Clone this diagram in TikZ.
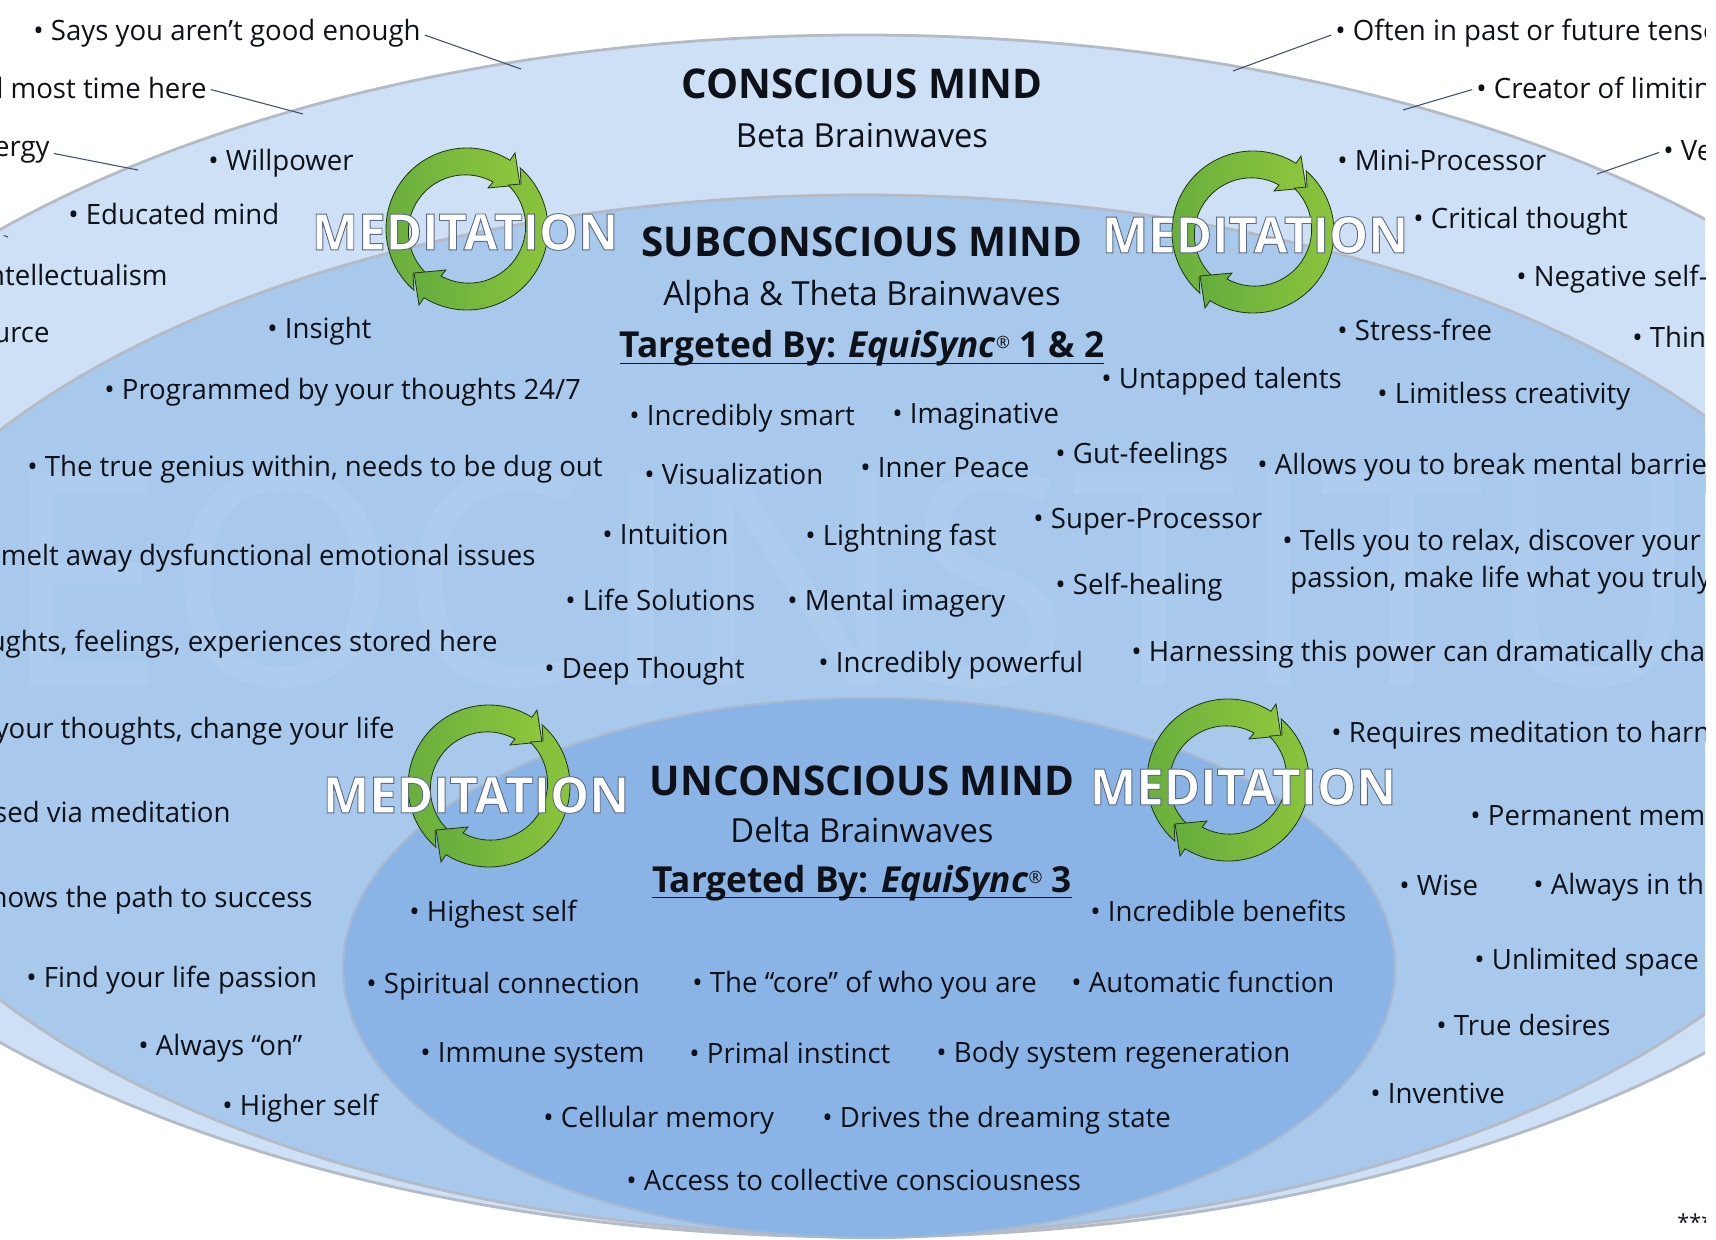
\documentclass[tikz,border=0pt]{standalone}
\usepackage{fontspec}
\setmainfont[FakeStretch=0.985]{Open Sans}
\newfontfamily\markfont{Open Sans}
\usetikzlibrary{arrows.meta}
\definecolor{c1}{HTML}{CDE0F5}
\definecolor{c2}{HTML}{A8C9EC}
\definecolor{c3}{HTML}{8AB4E6}
\definecolor{edge}{HTML}{B4BBC6}
\definecolor{lead}{HTML}{44546E}
\definecolor{txt}{HTML}{0E1118}
\definecolor{mark}{HTML}{ADCCEE}
\definecolor{g1}{HTML}{66AD3D}
\definecolor{g2}{HTML}{8EC63C}
\newcommand{\medword}{\special{pdf:code 2 Tr 0.45 w 0.36 0.42 0.52 RG}MEDITATION\special{pdf:code 0 Tr}}
\newcommand{\regmark}{\raisebox{4.5pt}{\fontsize{8.5}{9}\selectfont\mdseries ®}}
\newcommand{\tagline}[1]{\underline{\smash{#1}\rule[-1.2pt]{0pt}{1pt}}}
\tikzset{
	ring/.style={draw=black!70!g1, line width=0.4pt, left color=g1, right color=g2},
	itemtxt/.style={inner sep=0pt, anchor=base west, xshift=-1pt, yshift=-0.5pt, text=txt, font=\fontsize{14}{17}\selectfont},
	itemend/.style={itemtxt, anchor=base east, xshift=0pt},
	leader/.style={draw=lead, line width=0.55pt, shorten <=2pt},
	head/.style={inner sep=0pt, anchor=base, text=txt, font=\fontsize{20.5}{24}\selectfont\bfseries},
	sub/.style={inner sep=0pt, anchor=base, text=txt, font=\fontsize{16.6}{20}\selectfont},
	tag/.style={inner sep=0pt, anchor=base, text=txt, font=\fontsize{17.9}{20}\selectfont\bfseries},
	medlabel/.style={inner sep=0pt, anchor=center, text=white, font=\fontsize{25}{30}\selectfont\bfseries},
	medcycle/.pic={
		\path[ring] (131:81) arc[start angle=131, end angle=302, radius=81]
			-- (48,-76) -- (53,-44) -- (21,-41) -- (26,-47)
			arc[start angle=299, end angle=134, radius=57] -- (-54,45) -- cycle;
		\path[ring] (-49:81) arc[start angle=-49, end angle=122, radius=81]
			-- (-48,76) -- (-53,44) -- (-21,41) -- (-26,47)
			arc[start angle=119, end angle=-46, radius=57] -- (54,-45) -- cycle;
	}
}
\begin{document}
\begin{tikzpicture}[x=0.5pt,y=-0.5pt]
	\useasboundingbox (0,0) rectangle (1716,1240);
	\begin{scope}
	\clip (0,0) rectangle (1705,1240);

	% the three minds
	\draw[fill=c1, draw=edge, line width=1.4pt] (862,636) ellipse [x radius=1170, y radius=601];
	\draw[fill=c2, draw=edge, line width=1.4pt] (862,715) ellipse [x radius=1030, y radius=520];
	\begin{scope}
		\clip (862,715) ellipse [x radius=1030, y radius=520];
		\node[inner sep=0pt, anchor=base west, text=mark, font=\markfont\fontsize{149}{160}\selectfont] (wm) at (0,685) {EOC\hspace{7pt}INSTITUTE};
	\end{scope}
	\draw[fill=c3, draw=edge!70!c3, line width=1.1pt] (869,968) ellipse [x radius=526, y radius=270];

	% conscious
	\node[head] (ctitle) at (862,99) {CONSCIOUS MIND};
	\node[sub] (csub) at (862,148) {Beta Brainwaves};

	\node[itemtxt] (says) at (35,40) {• Says you aren’t good enough};
	\node[itemend] (spend) at (209,98) {d most time here};
	\node[itemend] (energy) at (52,156) {ergy};
	\node[itemtxt] (will) at (210,170) {• Willpower};
	\node[itemtxt] (edu) at (70,224) {• Educated mind};
	\node[itemend] (intel) at (170,285) {ntellectualism};
	\node[itemend] (res) at (52,342) {urce};
	\node[itemtxt] (tense) at (1337,40) {• Often in past or future tense};
	\node[itemtxt] (creator) at (1478,98) {• Creator of limitin};
	\node[itemtxt] (ve) at (1665,160) {• Ve};
	\node[itemtxt] (mini) at (1339,170) {• Mini-Processor};
	\node[itemtxt] (crit) at (1415,228) {• Critical thought};
	\node[itemtxt] (neg) at (1518,286) {• Negative self-};
	\node[itemtxt] (thin) at (1634,347) {• Thin};

	\coordinate (saysend) at (521,69);
	\coordinate (spendend) at (303,114);
	\coordinate (energyend) at (138,170);
	\coordinate (stubl) at (0,234);
	\coordinate (stubr) at (8,237);
	\coordinate (tenseend) at (1233,71);
	\coordinate (creatorend) at (1403,110);
	\coordinate (veend) at (1597,174);
	\draw[leader] (says.east) -- (saysend);
	\draw[leader] (spend.east) -- (spendend);
	\draw[leader] (energy.east) -- (energyend);
	\draw[leader] (stubl) -- (stubr);
	\draw[leader] (tense.west) -- (tenseend);
	\draw[leader] (creator.west) -- (creatorend);
	\draw[leader] (ve.west) -- (veend);

	% subconscious
	\node[head] (stitle) at (862,257) {SUBCONSCIOUS MIND};
	\node[sub] (ssub) at (862,306) {Alpha \& Theta Brainwaves};
	\node[tag] (stag) at (862,358) {\tagline{Targeted By: \textit{EquiSync}\regmark{} 1 \& 2}};

	\node[itemtxt] (insight) at (269,338) {• Insight};
	\node[itemtxt] (prog) at (106,399) {• Programmed by your thoughts 24/7};
	\node[itemtxt] (genius) at (29,475) {• The true genius within, needs to be dug out};
	\node[itemend] (melt) at (538,564) {melt away dysfunctional emotional issues};
	\node[itemend] (stored) at (500,650) {ughts, feelings, experiences stored here};
	\node[itemend] (change) at (397,737) {your thoughts, change your life};
	\node[itemend] (access) at (233,821) {sed via meditation};
	\node[itemend] (path) at (315,906) {hows the path to success};
	\node[itemtxt] (find) at (28,986) {• Find your life passion};
	\node[itemtxt] (on) at (140,1054) {• Always “on”};
	\node[itemtxt] (higher) at (224,1114) {• Higher self};
	\node[itemtxt] (smart) at (631,424) {• Incredibly smart};
	\node[itemtxt] (imag) at (894,422) {• Imaginative};
	\node[itemtxt] (talents) at (1103,388) {• Untapped talents};
	\node[itemtxt] (stress) at (1339,340) {• Stress-free};
	\node[itemtxt] (limitless) at (1379,403) {• Limitless creativity};
	\node[itemtxt] (visual) at (646,483) {• Visualization};
	\node[itemtxt] (peace) at (862,476) {• Inner Peace};
	\node[itemtxt] (gut) at (1057,462) {• Gut-feelings};
	\node[itemtxt] (allows) at (1259,473) {• Allows you to break mental barrie};
	\node[itemtxt] (intuition) at (604,543) {• Intuition};
	\node[itemtxt] (fast) at (807,544) {• Lightning fast};
	\node[itemtxt] (super) at (1035,527) {• Super-Processor};
	\node[itemtxt, align=left] (tells) at (1284,586) {• Tells you to relax, discover your o\\[1.5pt]\hspace*{4pt}passion, make life what you truly};
	\node[itemtxt] (life) at (567,609) {• Life Solutions};
	\node[itemtxt] (imagery) at (789,609) {• Mental imagery};
	\node[itemtxt] (heal) at (1057,593) {• Self-healing};
	\node[itemtxt] (deep) at (546,677) {• Deep Thought};
	\node[itemtxt] (power) at (820,671) {• Incredibly powerful};
	\node[itemtxt] (harness) at (1133,660) {• Harnessing this power can dramatically cha};
	\node[itemtxt] (req) at (1333,741) {• Requires meditation to harn};
	\node[itemtxt] (perm) at (1472,824) {• Permanent mem};
	\node[itemtxt] (wise) at (1401,894) {• Wise};
	\node[itemtxt] (now) at (1535,893) {• Always in th};
	\node[itemtxt] (space) at (1476,968) {• Unlimited space};
	\node[itemtxt] (desires) at (1438,1034) {• True desires};
	\node[itemtxt] (invent) at (1372,1102) {• Inventive};

	% unconscious
	\node[head] (utitle) at (862,795) {UNCONSCIOUS MIND};
	\node[sub] (usub) at (862,842) {Delta Brainwaves};
	\node[tag] (utag) at (862,892) {\tagline{Targeted By: \textit{EquiSync}\regmark{} 3}};

	\node[itemtxt] (high) at (411,920) {• Highest self};
	\node[itemtxt] (bene) at (1092,920) {• Incredible benefits};
	\node[itemtxt] (spirit) at (368,992) {• Spiritual connection};
	\node[itemtxt] (core) at (694,991) {• The “core” of who you are};
	\node[itemtxt] (auto) at (1073,991) {• Automatic function};
	\node[itemtxt] (immune) at (422,1061) {• Immune system};
	\node[itemtxt] (primal) at (691,1062) {• Primal instinct};
	\node[itemtxt] (body) at (938,1061) {• Body system regeneration};
	\node[itemtxt] (cell) at (545,1126) {• Cellular memory};
	\node[itemtxt] (dream) at (824,1126) {• Drives the dreaming state};
	\node[itemtxt] (collect) at (628,1189) {• Access to collective consciousness};

	\node[inner sep=0pt, anchor=west, text=txt, font=\fontsize{11}{12}\selectfont] (stars) at (1677,1222) {***};

	% cycles and their word
	\pic at (467,229) {medcycle};
	\pic at (1253,232) {medcycle};
	\pic at (489,786) {medcycle};
	\pic at (1228,780) {medcycle};
	\node[medlabel] (med1) at (465,232) {\medword};
	\node[medlabel] (med2) at (1255,235) {\medword};
	\node[medlabel] (med3) at (476,795) {\medword};
	\node[medlabel] (med4) at (1243,787) {\medword};
	\end{scope}
\end{tikzpicture}
\end{document}
